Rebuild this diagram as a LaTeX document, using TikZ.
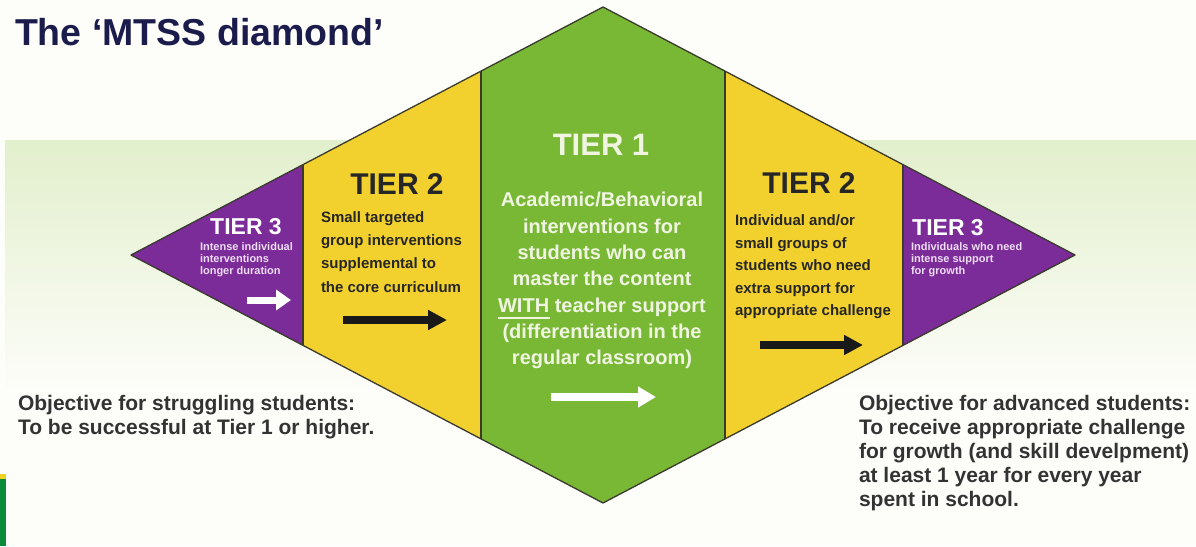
\documentclass[tikz,border=0pt]{standalone}
\usepackage{fontspec}
\setmainfont{Liberation Sans}
\usetikzlibrary{arrows.meta}
\definecolor{tpurple}{HTML}{7B2C99}
\definecolor{tyellow}{HTML}{F2D12E}
\definecolor{tgreen}{HTML}{79B834}
\definecolor{outl}{HTML}{3A3A2E}
\definecolor{navy}{HTML}{1C1C4C}
\definecolor{band}{HTML}{E2EFCC}
\definecolor{txtdark}{HTML}{262626}
\definecolor{txtgray}{HTML}{333333}
\definecolor{tonewhite}{HTML}{F0F5E2}
\definecolor{lav}{HTML}{EEDDF5}
\definecolor{decgreen}{HTML}{0B8A3C}
\definecolor{decyellow}{HTML}{F2D21E}
\definecolor{paper}{HTML}{FDFDF9}
\begin{document}
\begin{tikzpicture}[x=1pt,y=-1pt,
  txt/.style={inner sep=0pt, outer sep=0pt, font=\bfseries},
  tiertitle/.style={txt, anchor=base},
  body/.style={txt, anchor=north west, align=left, text=txtdark,
    font=\bfseries\fontsize{15}{23.3}\selectfont},
  small/.style={txt, anchor=north west, align=left, text=lav},
  objective/.style={txt, anchor=north west, align=left, text=txtgray,
    font=\bfseries\fontsize{21}{24}\selectfont},
  blockarrow/.style={line width=7.5pt, -{Triangle[length=19pt,width=19pt]}},
  edge/.style={draw=outl, line width=1.3pt, line join=round}]
% canvas
\fill[paper] (0,0) rectangle (1196,546);
\useasboundingbox (0,0) rectangle (1196,546);
\fill[top color=band, bottom color=paper] (5,140) rectangle (1196,390);
% bottom-left decoration
\fill[decyellow] (0,474) rectangle (6,479);
\fill[decgreen] (0,479) rectangle (6,546);
% diamond coordinates
\coordinate (L) at (131,255);
\coordinate (T) at (603,7);
\coordinate (R) at (1075,255);
\coordinate (B) at (603,503);
\coordinate (a1) at (303,164.6);
\coordinate (a2) at (303,345.4);
\coordinate (b1) at (481,71.1);
\coordinate (b2) at (481,438.9);
\coordinate (c1) at (725,71.1);
\coordinate (c2) at (725,438.9);
\coordinate (d1) at (903,164.6);
\coordinate (d2) at (903,345.4);
% fills
\fill[tpurple] (L) -- (a1) -- (a2) -- cycle;
\fill[tyellow] (a1) -- (b1) -- (b2) -- (a2) -- cycle;
\fill[tgreen] (b1) -- (T) -- (c1) -- (c2) -- (B) -- (b2) -- cycle;
\fill[tyellow] (c1) -- (d1) -- (d2) -- (c2) -- cycle;
\fill[tpurple] (d1) -- (R) -- (d2) -- cycle;
% outlines
\draw[edge] (L) -- (T) -- (R) -- (B) -- cycle;
\draw[edge] (a1) -- (a2);
\draw[edge] (b1) -- (b2);
\draw[edge] (c1) -- (c2);
\draw[edge] (d1) -- (d2);
% title
\node[txt, anchor=base west, text=navy, font=\bfseries\fontsize{37.5}{40}\selectfont] (title) at (15,45) {The ‘MTSS diamond’};
% tier titles
\node[tiertitle, text=white, font=\bfseries\fontsize{23}{26}\selectfont] (t3l) at (246,234) {TIER 3};
\node[tiertitle, text=txtdark, font=\bfseries\fontsize{30}{32}\selectfont] (t2l) at (397,194) {TIER 2};
\node[tiertitle, text=tonewhite, font=\bfseries\fontsize{31}{34}\selectfont] (t1) at (601,155) {TIER 1};
\node[tiertitle, text=txtdark, font=\bfseries\fontsize{30}{32}\selectfont] (t2r) at (809,193) {TIER 2};
\node[tiertitle, text=white, font=\bfseries\fontsize{23}{26}\selectfont] (t3r) at (948,235) {TIER 3};
% bodies
\node[small, font=\bfseries\fontsize{11}{12}\selectfont] (s3l) at (200,243)
  {Intense individual\\interventions\\longer duration};
\node[body] (s2l) at (321,211.5)
  {Small targeted\\group interventions\\supplemental to\\the core curriculum};
\node[txt, anchor=north, align=center, text=tonewhite,
  font=\bfseries\fontsize{20}{26.3}\selectfont] (s1) at (602,192.5)
  {Academic/Behavioral\\interventions for\\students who can\\master the content\\WITH teacher support\\(differentiation in the\\regular classroom)};
\node[body, font=\bfseries\fontsize{15}{22.5}\selectfont] (s2r) at (735,215)
  {Individual and/or\\small groups of\\students who need\\extra support for\\appropriate challenge};
\node[small, font=\bfseries\fontsize{11}{12}\selectfont] (s3r) at (911,243)
  {Individuals who need\\intense support\\for growth};
% WITH underline
\coordinate (u1) at (498,318);
\coordinate (u2) at (550,318);
\draw[tonewhite, line width=1.5pt] (u1) -- (u2);
% arrows
\coordinate (w1s) at (247,300); \coordinate (w1e) at (291,300);
\coordinate (k1s) at (343,320); \coordinate (k1e) at (447,320);
\coordinate (w2s) at (551,397); \coordinate (w2e) at (656,397);
\coordinate (k2s) at (760,345); \coordinate (k2e) at (863,345);
\draw[blockarrow, white, line width=7pt, -{Triangle[length=15pt,width=20pt]}] (w1s) -- (w1e);
\draw[blockarrow, black!90] (k1s) -- (k1e);
\draw[blockarrow, white, line width=8pt, -{Triangle[length=18pt,width=20pt]}] (w2s) -- (w2e);
\draw[blockarrow, black!90] (k2s) -- (k2e);
% objectives
\node[objective] (ol) at (18,395)
  {Objective for struggling students:\\To be successful at Tier 1 or higher.};
\node[objective] (or) at (859,395)
  {Objective for advanced students:\\To receive appropriate challenge\\for growth (and skill develpment)\\at least 1 year for every year\\spent in school.};
\end{tikzpicture}
\end{document}
